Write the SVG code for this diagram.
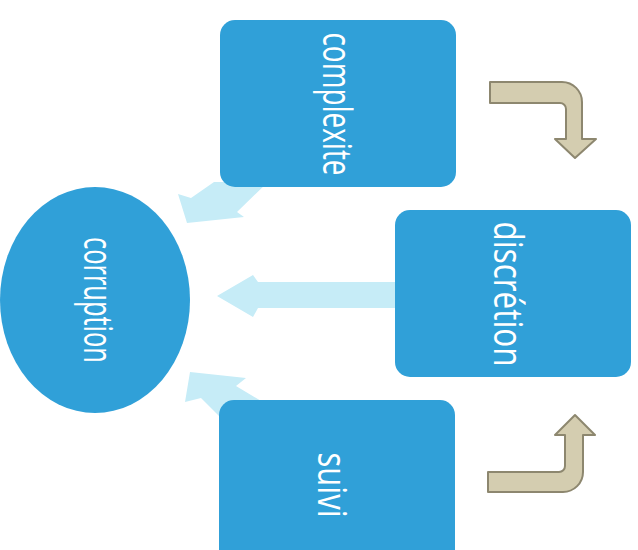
<svg xmlns="http://www.w3.org/2000/svg" width="638" height="550" viewBox="0 0 638 550">
<style>
.node{fill:#30a0d8}
.lbl{font-family:"Open Sans","DejaVu Sans",sans-serif;font-size:41px;fill:#ffffff;text-anchor:middle}
.flow{fill:#c6ecf7}
.bend{fill:#d4cdb0;stroke:#8d876f;stroke-width:2;stroke-linejoin:round}
</style>
<rect width="638" height="550" fill="#ffffff"/>
<g id="connectors">
<polygon class="flow" points="178,194 191,198 214,182 268,182 237,212 244,217 187,223"/>
<polygon class="flow" points="400,282 258,282 253,275 217,296 253,317 258,308 400,308"/>
<polygon class="flow" points="190,372 246,378 236,386 268,405 228,425 201,398 185,402"/>
<path class="bend" d="M490,82 H562 A20,20 0 0 1 582,102 V139 H596 L575,158 L555,139 H566 V109 A6,6 0 0 0 560,103 H490 Z"/>
<path class="bend" d="M488,472 H559 A6,6 0 0 0 565,466 V435 H555 L575,415 L595,435 H583 V472 A20,20 0 0 1 563,492 H488 Z"/>
</g>
<g id="complexite">
<rect class="node" x="220" y="20" width="236" height="167" rx="15"/>
<text class="lbl" transform="translate(323,104) rotate(90)" textLength="143" lengthAdjust="spacingAndGlyphs">complexite</text>
</g>
<g id="discretion">
<rect class="node" x="395" y="210" width="236" height="167" rx="15"/>
<text class="lbl" transform="translate(494,294) rotate(90)" textLength="145" lengthAdjust="spacingAndGlyphs">discrétion</text>
</g>
<g id="suivi">
<rect class="node" x="219" y="400" width="236" height="170" rx="15"/>
<text class="lbl" transform="translate(318,485) rotate(90)" textLength="65" lengthAdjust="spacingAndGlyphs">suivi</text>
</g>
<g id="corruption">
<ellipse class="node" cx="95" cy="300" rx="95" ry="113"/>
<text class="lbl" transform="translate(84,300) rotate(90)" textLength="126" lengthAdjust="spacingAndGlyphs">corruption</text>
</g>
</svg>
